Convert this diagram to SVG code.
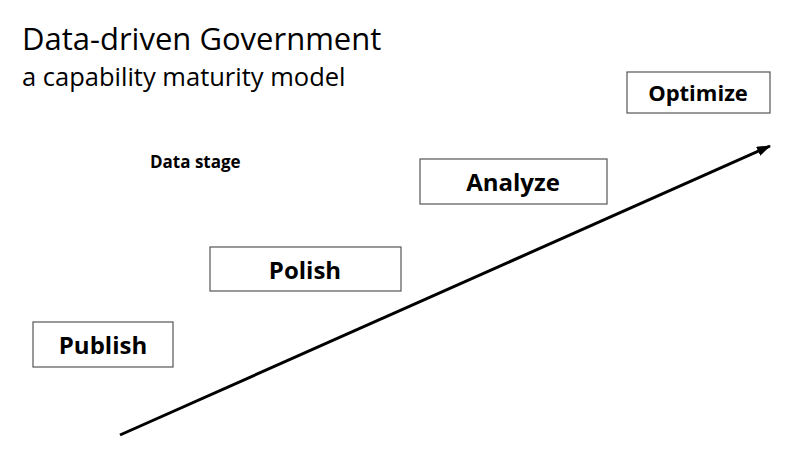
<svg xmlns="http://www.w3.org/2000/svg" width="800" height="458" viewBox="0 0 800 458">
<style>
.box{fill:#fff;stroke:#555;stroke-width:1.2}
.lbl{font-family:"Open Sans","Liberation Sans",sans-serif;font-weight:bold;font-size:24px;fill:#000;text-anchor:middle}
</style>
<defs><marker id="ah" markerWidth="14" markerHeight="10" refX="13" refY="5" orient="auto" markerUnits="userSpaceOnUse"><path d="M0,0 L14,5 L0,10 Z" fill="#000"/></marker></defs>
<rect width="800" height="458" fill="#fff"/>
<text x="22" y="50" font-family="'Open Sans','Liberation Sans',sans-serif" font-size="31" fill="#000">Data-driven Government</text>
<text x="22" y="86" font-family="'Open Sans','Liberation Sans',sans-serif" font-size="25.5" fill="#000">a capability maturity model</text>
<text x="150" y="168" font-family="'Open Sans','Liberation Sans',sans-serif" font-size="17" font-weight="bold" fill="#000">Data stage</text>
<g id="connectors"><line x1="120" y1="435" x2="770" y2="146" stroke="#000" stroke-width="3" marker-end="url(#ah)"/></g>
<g id="publish"><rect class="box" x="33" y="322" width="140" height="45"/><text class="lbl" x="103" y="354">Publish</text></g>
<g id="polish"><rect class="box" x="210" y="247" width="191" height="44"/><text class="lbl" x="305" y="279">Polish</text></g>
<g id="analyze"><rect class="box" x="420" y="159" width="187" height="45"/><text class="lbl" x="513" y="191">Analyze</text></g>
<g id="optimize"><rect class="box" x="627" y="72" width="143" height="41"/><text class="lbl" x="698" y="101" style="font-size:22px">Optimize</text></g>
</svg>
